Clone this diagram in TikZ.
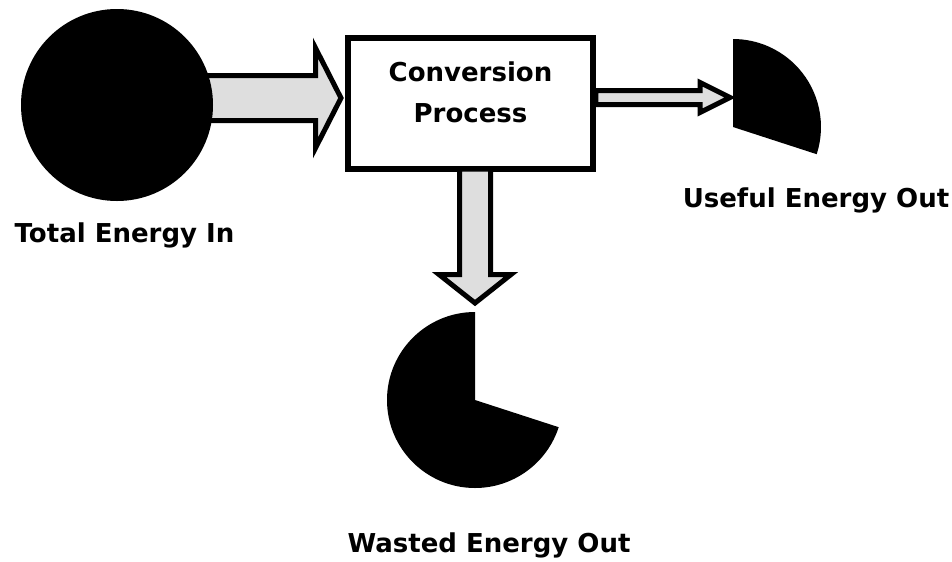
\documentclass[tikz,border=0pt]{standalone}
\usepackage{fontspec}
\newfontfamily\lblfont{DejaVu Sans}
\usetikzlibrary{calc}
\definecolor{flowgray}{rgb}{0.87,0.87,0.87}
\tikzset{%
  flow/.style={draw=black,fill=flowgray,line width=0.1cm,line join=miter},
  procbox/.style={draw=black,fill=white,line width=0.11cm,minimum width=4.9cm,minimum height=2.62cm,inner sep=0pt},
  lbl/.style={font={\lblfont\bfseries\fontsize{14.8}{23.2}\selectfont},align=center,inner sep=0pt}
}
\begin{document}
\begin{tikzpicture}
  \useasboundingbox (0,0) rectangle (19.04,-11.22);
  % energy in
  \coordinate (i0) at (3.0,-1.51);
  \coordinate (i1) at (6.31,-1.51);
  \coordinate (i2) at (6.31,-0.96);
  \coordinate (i3) at (6.82,-1.96);
  \coordinate (i4) at (6.31,-2.96);
  \coordinate (i5) at (6.31,-2.41);
  \coordinate (i6) at (3.0,-2.41);
  \filldraw[flow] (i0) -- (i1) -- (i2) -- (i3) -- (i4) -- (i5) -- (i6) -- cycle;
  \node[circle,fill=black,minimum size=3.84cm,inner sep=0pt] (tot) at (2.34,-2.10) {};
  \node[lbl] (totlbl) at (2.49,-4.70) {Total Energy In};
  %%%
  \node[procbox] (proc) at (9.41,-2.07) {};
  \node[lbl] (proclbl) at ($(proc.center)+(0,0.22)$) {Conversion\\Process};
  % useful energy out
  \coordinate (u0) at (proc.east |- 0,-1.81);
  \coordinate (u1) at (14.0,-1.81);
  \coordinate (u2) at (14.0,-1.65);
  \coordinate (u3) at (14.6,-1.95);
  \coordinate (u4) at (14.0,-2.25);
  \coordinate (u5) at (14.0,-2.09);
  \coordinate (u6) at (proc.east |- 0,-2.09);
  \filldraw[flow] (u0) -- (u1) -- (u2) -- (u3) -- (u4) -- (u5) -- (u6) -- cycle;
  \coordinate (useful) at (14.66,-2.54);
  \fill (useful) -- ++(-18:1.76) arc (-18:90:1.76) -- cycle;
  \node[lbl] (usefullbl) at (16.32,-4.0) {Useful Energy Out};
  % wasted energy out
  \coordinate (w0) at (9.19,-3.38);
  \coordinate (w1) at (9.19,-5.49);
  \coordinate (w2) at (8.78,-5.49);
  \coordinate (w3) at (9.5,-6.06);
  \coordinate (w4) at (10.22,-5.49);
  \coordinate (w5) at (9.81,-5.49);
  \coordinate (w6) at (9.81,-3.38);
  \filldraw[flow] (w0) -- (w1) -- (w2) -- (w3) -- (w4) -- (w5) -- (w6) -- cycle;
  \coordinate (wasted) at (9.5,-8.0);
  \fill (wasted) -- ++(90:1.76) arc (90:342:1.76) -- cycle;
  \node[lbl] (wastedlbl) at (9.78,-10.9) {Wasted Energy Out};
\end{tikzpicture}
\end{document}
